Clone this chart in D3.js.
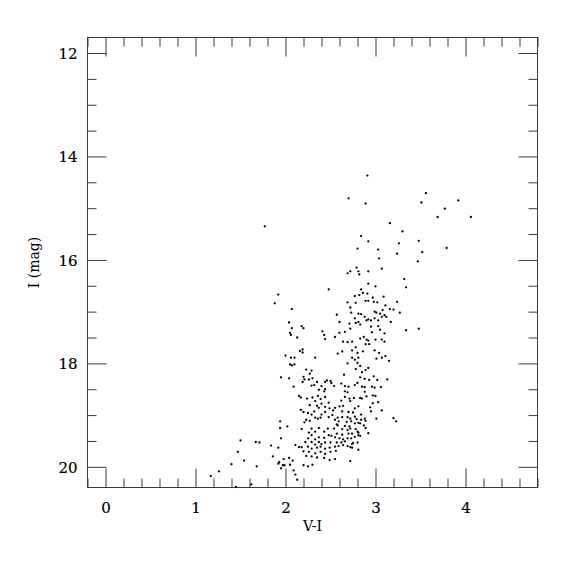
<!DOCTYPE html>
<html><head><meta charset="utf-8">
<script src="https://cdn.jsdelivr.net/npm/d3@7"></script>
<style>body{margin:0;background:#fff}svg{display:block}</style>
</head><body>
<svg id="c" width="575" height="575"></svg>
<script>
const xMajor = [0, 1, 2, 3, 4];
const yMajor = [12, 14, 16, 18, 20];
const xLabel = "V-I";
const yLabel = "I (mag)";
// V-I colour index values
const vi = [
2.91,2.70,2.89,1.77,2.84,2.92,2.80,3.03,3.04,3.56,3.51,3.92,3.77,3.69,4.06,3.16,3.30,3.48,3.26,3.79,3.52,3.24,3.47,3.07,2.79,3.48,
2.69,2.72,2.81,2.82,2.92,3.32,3.34,2.92,3.00,2.84,2.86,2.77,2.82,2.91,2.97,3.09,2.89,2.92,2.98,3.02,2.69,2.78,3.11,3.24,2.72,3.16,3.20,3.08,3.27,2.99,3.01,3.05,3.10,3.12,2.81,2.84,2.73,2.77,2.88,2.90,2.92,2.95,2.99,3.03,3.07,2.57,2.60,2.71,2.78,2.81,2.83,2.95,3.03,3.05,3.17,3.34,2.72,2.66,2.60,2.55,2.96,3.10,2.87,2.83,2.90,2.92,3.00,3.07,3.10,2.64,2.69,2.74,2.89,2.93,2.78,2.63,2.58,2.74,2.80,2.86,2.99,3.04,3.11,3.07,3.15,3.01,2.74,2.81,2.77,2.69,2.80,2.83,2.78,2.89,2.92,2.85,2.65,2.83,2.88,2.98,2.93,3.02,3.13,2.62,2.80,2.85,
2.48,1.92,1.88,2.07,2.04,2.07,2.18,2.20,2.41,2.43,2.05,2.06,2.13,2.44,2.19,2.16,2.19,2.00,2.06,2.10,2.33,2.05,2.07,2.10,2.23,2.29,2.27,2.20,2.30,2.26,1.95,2.04,2.21,2.35,2.19,2.46,2.50,2.44,2.51,2.54,
2.09,2.29,2.32,2.40,2.37,2.43,2.44,2.15,2.17,2.24,2.30,2.36,2.39,2.44,2.33,2.40,2.48,2.27,2.35,2.37,2.44,2.17,2.20,2.32,2.49,2.53,2.25,2.29,2.40,2.44,2.52,2.33,2.36,2.39,2.48,2.23,2.21,2.27,1.94,2.02,1.94,2.18,2.29,2.37,2.47,2.54,2.33,2.43,2.26,2.29,2.48,2.51,2.37,2.43,2.33,2.25,1.95,2.22,2.29,2.33,2.37,2.40,2.44,2.50,2.11,2.15,2.18,2.25,2.29,2.35,2.39,2.44,2.49,2.55,1.92,2.20,2.26,2.33,2.39,2.44,2.50,2.23,2.29,2.35,2.43,2.49,2.55,1.93,1.92,1.98,2.04,2.08,2.20,2.25,2.30,1.97,1.99,2.05,1.95,2.09,2.11,2.13,
1.50,1.67,1.71,1.84,1.47,1.54,1.86,1.68,1.40,1.26,1.17,1.62,1.45,
2.66,2.70,2.77,2.88,2.96,2.99,3.06,2.66,2.69,2.88,2.66,2.71,2.72,2.76,2.83,2.85,2.90,2.62,2.97,3.00,3.03,2.97,2.64,2.60,2.81,2.77,2.94,2.95,3.07,2.55,2.63,2.70,2.75,2.84,2.58,2.63,2.69,2.72,2.77,2.79,2.84,2.88,2.89,3.01,3.20,3.23,2.55,2.59,2.68,2.73,2.77,2.81,2.83,2.87,2.89,2.57,2.58,2.66,2.71,2.63,2.69,2.72,2.78,2.80,2.57,2.63,2.70,2.74,2.83,2.81,2.92,2.55,2.60,2.64,2.69,2.73,2.77,2.81,2.57,2.62,2.66,2.74,2.75,2.80,2.59,2.64,2.69,2.74,2.72,2.56,2.81,2.72
];
// I magnitudes
const imag = [
14.37,14.81,14.91,15.35,15.54,15.64,15.78,15.80,15.97,14.71,14.89,14.85,15.01,15.17,15.17,15.29,15.45,15.63,15.68,15.77,15.85,15.88,16.03,16.17,16.15,17.33,
16.26,16.22,16.22,16.28,16.22,16.37,16.53,16.46,16.51,16.57,16.64,16.70,16.68,16.65,16.73,16.71,16.79,16.79,16.81,16.82,16.82,16.83,16.88,16.81,16.92,16.95,16.96,16.97,17.02,17.00,17.02,17.04,17.07,17.10,17.04,17.05,17.02,17.13,17.10,17.17,17.15,17.17,17.13,17.17,17.10,17.06,17.20,17.23,17.22,17.20,17.25,17.29,17.28,17.35,17.20,17.36,17.33,17.39,17.41,17.49,17.40,17.42,17.49,17.52,17.54,17.56,17.54,17.54,17.58,17.58,17.59,17.58,17.63,17.63,17.69,17.77,17.81,17.75,17.80,17.77,17.75,17.80,17.86,17.89,17.95,17.91,17.89,17.89,17.93,18.00,17.99,18.05,18.11,18.13,18.09,18.17,18.22,18.27,18.30,18.25,18.32,18.32,18.31,18.39,18.38,18.45,
16.57,16.67,16.84,16.95,17.21,17.32,17.28,17.32,17.38,17.45,17.41,17.45,17.50,17.53,17.73,17.76,17.79,17.85,17.89,17.89,17.89,18.02,18.04,18.02,18.12,18.14,18.20,18.26,18.29,18.31,18.27,18.29,18.31,18.36,18.36,18.33,18.34,18.36,18.38,18.44,
18.45,18.43,18.42,18.44,18.51,18.54,18.50,18.63,18.66,18.68,18.66,18.63,18.69,18.65,18.73,18.78,18.76,18.81,18.82,18.86,18.84,18.90,18.94,18.93,18.87,18.91,18.96,18.99,18.99,18.94,19.00,19.05,19.07,19.05,19.04,19.09,19.14,19.11,19.12,19.22,19.25,19.27,19.26,19.25,19.26,19.26,19.32,19.32,19.34,19.39,19.39,19.40,19.43,19.44,19.47,19.45,19.45,19.52,19.52,19.57,19.52,19.56,19.53,19.53,19.58,19.62,19.62,19.61,19.65,19.63,19.61,19.65,19.63,19.61,19.63,19.70,19.71,19.74,19.71,19.75,19.71,19.79,19.80,19.82,19.83,19.87,19.85,19.91,19.94,19.85,19.83,19.88,19.97,19.99,19.96,19.97,19.97,19.96,20.03,20.07,20.15,20.25,
19.49,19.52,19.53,19.59,19.71,19.88,19.80,19.99,19.95,20.09,20.18,20.34,20.39,
18.44,18.45,18.42,18.46,18.45,18.47,18.46,18.54,18.56,18.55,18.65,18.68,18.73,18.67,18.67,18.68,18.64,18.72,18.62,18.63,18.75,18.77,18.82,18.83,18.83,18.87,18.85,18.93,18.91,18.86,18.93,18.94,18.95,18.99,19.05,19.04,19.04,19.07,19.03,19.08,19.09,19.07,19.11,19.07,19.06,19.12,19.09,19.12,19.13,19.12,19.16,19.15,19.16,19.20,19.25,19.18,19.20,19.21,19.22,19.27,19.29,19.26,19.27,19.32,19.36,19.38,19.36,19.36,19.40,19.34,19.35,19.43,19.45,19.47,19.45,19.45,19.42,19.39,19.53,19.53,19.51,19.56,19.54,19.53,19.60,19.58,19.60,19.63,19.62,19.69,19.67,19.89
];

const svg = d3.select("#c");
const L = 87.5, R = 537.5, T = 37.5, B = 487.5;
const x = d3.scaleLinear().domain([-0.2, 4.8]).range([L, R]);
const y = d3.scaleLinear().domain([11.7, 20.4]).range([T, B]);

const xMinor = d3.range(-0.2, 4.801, 0.2).map(v => +v.toFixed(2)).filter(v => Math.abs(v - Math.round(v)) > 1e-6);
const yMinor = d3.range(12, 20.401, 0.5).filter(v => v % 2 !== 0);

const col = "#3a3a3a";
const font = "DejaVu Serif";
const tickFont = 15;
function style(g) {
  g.select(".domain").remove();
  g.selectAll(".tick line").attr("stroke", col).attr("stroke-width", 1);
  g.selectAll(".tick text").attr("font-family", font).attr("font-size", tickFont)
    .attr("fill", "#000").attr("stroke", "#000").attr("stroke-width", 0.2);
}
const MJ = 19, MN = 9;
// bottom
svg.append("g").attr("transform", `translate(0,${B})`)
  .call(d3.axisBottom(x).tickValues(xMinor).tickSize(-MN).tickFormat(""))
  .call(style).call(g => g.selectAll(".tick text").remove());
svg.append("g").attr("transform", `translate(0,${B})`)
  .call(d3.axisBottom(x).tickValues(xMajor).tickSize(-MJ).tickFormat(d3.format("d")))
  .call(style).call(g => g.selectAll(".tick text").attr("y", 25.4).attr("dy", "0"));
// top
svg.append("g").attr("transform", `translate(0,${T})`)
  .call(d3.axisTop(x).tickValues(xMinor).tickSize(-MN).tickFormat(""))
  .call(style).call(g => g.selectAll(".tick text").remove());
svg.append("g").attr("transform", `translate(0,${T})`)
  .call(d3.axisTop(x).tickValues(xMajor).tickSize(-MJ).tickFormat(""))
  .call(style).call(g => g.selectAll(".tick text").remove());
// left
svg.append("g").attr("transform", `translate(${L},0)`)
  .call(d3.axisLeft(y).tickValues(yMinor).tickSize(-MN).tickFormat(""))
  .call(style).call(g => g.selectAll(".tick text").remove());
svg.append("g").attr("transform", `translate(${L},0)`)
  .call(d3.axisLeft(y).tickValues(yMajor).tickSize(-MJ).tickFormat(d3.format("d")))
  .call(style).call(g => g.selectAll(".tick text").attr("x", -10).attr("dy", "0.36em"));
// right
svg.append("g").attr("transform", `translate(${R},0)`)
  .call(d3.axisRight(y).tickValues(yMinor).tickSize(-MN).tickFormat(""))
  .call(style).call(g => g.selectAll(".tick text").remove());
svg.append("g").attr("transform", `translate(${R},0)`)
  .call(d3.axisRight(y).tickValues(yMajor).tickSize(-MJ).tickFormat(""))
  .call(style).call(g => g.selectAll(".tick text").remove());

// frame
svg.append("rect").attr("x", L).attr("y", T).attr("width", R - L).attr("height", B - T)
  .attr("fill", "none").attr("stroke", col).attr("stroke-width", 1);

// points
const pts = vi.map((v, i) => ({vi: v, i: imag[i]}));
svg.append("g").selectAll("circle").data(pts).join("circle")
  .attr("cx", d => x(d.vi)).attr("cy", d => y(d.i)).attr("r", 1.15).attr("fill", "#000");

// axis titles
svg.append("text").attr("x", (L + R) / 2).attr("y", 531).attr("text-anchor", "middle")
  .attr("font-family", font).attr("font-size", 14).text(xLabel);
svg.append("text").attr("transform", `translate(39,${(T + B) / 2}) rotate(-90)`).attr("text-anchor", "middle")
  .attr("font-family", font).attr("font-size", 14).text(yLabel);
</script>
</body></html>
